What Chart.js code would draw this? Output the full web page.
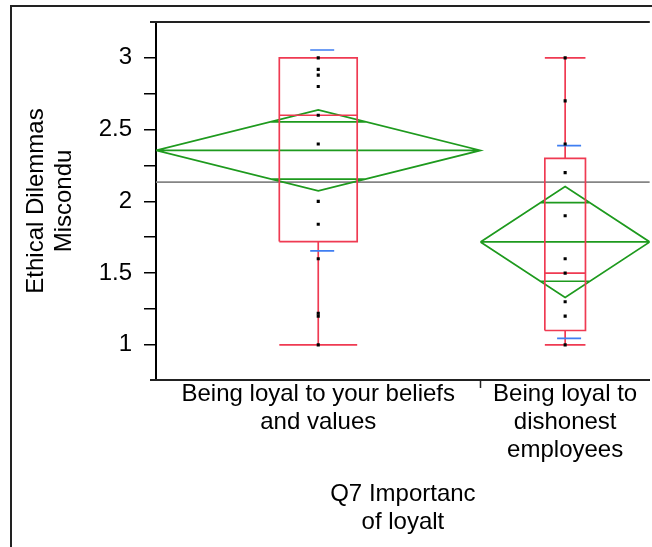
<!DOCTYPE html>
<html>
<head>
<meta charset="utf-8">
<script src="https://cdn.jsdelivr.net/npm/chart.js@4.4.0/dist/chart.umd.min.js"></script>
<style>
  html, body { margin: 0; padding: 0; background: #fff; }
  #wrap { width: 652px; height: 547px; }
</style>
</head>
<body>
<div id="wrap"><canvas id="chartBox"></canvas></div>
<script>
// group labels and counts (x widths are proportional to count)
var groupLabels = [["Being loyal to your beliefs", "and values"], ["Being loyal to", "dishonest", "employees"]];
var groupCounts = [23, 12];

// observed values per group
var pointsBeliefs = [3.0, 2.92, 2.88, 2.8, 2.6, 2.4, 2.0, 1.84, 1.6, 1.22, 1.2, 1.0];
var pointsDishonest = [3.0, 2.7, 2.4, 2.2, 1.9, 1.6, 1.5, 1.3, 1.2, 1.0];

// box plot summaries
var boxMin = [1.0, 1.0];
var boxQ1 = [1.72, 1.1];
var boxMedian = [2.6, 1.5];
var boxQ3 = [3.0, 2.3];
var boxMax = [3.0, 3.0];

// means diamonds and std dev lines
var groupMeans = [2.355, 1.717];
var ciHalf = [0.282, 0.387];
var stdDevs = [0.70, 0.672];
var grandMean = 2.134;

var yTicks = [1, 1.25, 1.5, 1.75, 2, 2.25, 2.5, 2.75, 3];
var yMin = 0.755, yMax = 3.25;

var RED = '#ef3a52', GREEN = '#1e9a1e', BLUE = '#3f7ef2', GRAY = '#858585';
var FONT = "'Liberation Sans', Arial, sans-serif";
var LW = 1.7;

var total = groupCounts[0] + groupCounts[1];
var starts = [0, groupCounts[0]];
var centers = starts.map(function (s, i) { return s + groupCounts[i] / 2; });
var gap = function (x) { return { x: x, y: null }; };

function boxData(i) {
  var c = centers[i], h = groupCounts[i] * 0.12;
  return [
    { x: c - h, y: boxQ1[i] }, { x: c + h, y: boxQ1[i] }, { x: c + h, y: boxQ3[i] }, { x: c - h, y: boxQ3[i] }, { x: c - h, y: boxQ1[i] }, gap(c),
    { x: c - h, y: boxMedian[i] }, { x: c + h, y: boxMedian[i] }, gap(c),
    { x: c, y: boxQ1[i] }, { x: c, y: boxMin[i] }, gap(c),
    { x: c, y: boxQ3[i] }, { x: c, y: boxMax[i] }, gap(c),
    { x: c - h, y: boxMin[i] }, { x: c + h, y: boxMin[i] }, gap(c),
    { x: c - h, y: boxMax[i] }, { x: c + h, y: boxMax[i] }
  ];
}

function diamondData(i) {
  var s = starts[i], e = starts[i] + groupCounts[i], c = centers[i], m = groupMeans[i], d = ciHalf[i];
  var ov = d / Math.SQRT2, w = (groupCounts[i] / 2) * (1 - 1 / Math.SQRT2);
  return [
    { x: s, y: m }, { x: c, y: m + d }, { x: e, y: m }, { x: c, y: m - d }, { x: s, y: m }, gap(c),
    { x: s, y: m }, { x: e, y: m }, gap(c),
    { x: c - w, y: m + ov }, { x: c + w, y: m + ov }, gap(c),
    { x: c - w, y: m - ov }, { x: c + w, y: m - ov }
  ];
}

function sdData(i) {
  var c = centers[i] + 0.28, h = 0.85;
  return [
    { x: c - h, y: groupMeans[i] + stdDevs[i] }, { x: c + h, y: groupMeans[i] + stdDevs[i] }, gap(c),
    { x: c - h, y: groupMeans[i] - stdDevs[i] }, { x: c + h, y: groupMeans[i] - stdDevs[i] }
  ];
}

function lineSet(data, color, order) {
  return { data: data, showLine: true, borderColor: color, borderWidth: LW, pointRadius: 0,
           pointHoverRadius: 0, tension: 0, spanGaps: false, fill: false, order: order };
}

var pointData = pointsBeliefs.map(function (v) { return { x: centers[0], y: v }; })
  .concat(pointsDishonest.map(function (v) { return { x: centers[1], y: v }; }));

var framePlugin = {
  id: 'frame',
  afterDraw: function (chart) {
    var ctx = chart.ctx, a = chart.chartArea, xs = chart.scales.x;
    ctx.save();
    ctx.strokeStyle = '#222';
    ctx.lineWidth = 2;
    ctx.beginPath();
    ctx.moveTo(11, chart.height); ctx.lineTo(11, 6); ctx.lineTo(chart.width, 6);
    ctx.moveTo(a.left - 6, a.top); ctx.lineTo(a.right, a.top);
    ctx.moveTo(a.left - 6, a.bottom); ctx.lineTo(a.right, a.bottom);
    ctx.stroke();
    var bx = xs.getPixelForValue(starts[1]);
    ctx.lineWidth = 1.5;
    ctx.beginPath();
    ctx.moveTo(bx, a.bottom); ctx.lineTo(bx, a.bottom + 8);
    ctx.stroke();
    ctx.restore();
  }
};

var ctx = document.getElementById('chartBox').getContext('2d');
var chartBox = new Chart(ctx, {
  type: 'scatter',
  data: {
    datasets: [
      { data: pointData, pointStyle: 'rect', pointRadius: 2.2, pointHoverRadius: 2.2, borderWidth: 0,
        backgroundColor: '#000', order: 0 },
      lineSet(sdData(0), BLUE, 1),
      lineSet(sdData(1), BLUE, 1),
      lineSet(boxData(0), RED, 2),
      lineSet(boxData(1), RED, 2),
      lineSet(diamondData(0), GREEN, 3),
      lineSet(diamondData(1), GREEN, 3),
      lineSet([{ x: 0, y: grandMean }, { x: total, y: grandMean }], GRAY, 4)
    ]
  },
  plugins: [framePlugin],
  options: {
    responsive: true,
    maintainAspectRatio: false,
    animation: false,
    events: [],
    layout: { padding: { top: 22, left: 0, right: 0, bottom: 0 } },
    plugins: { legend: { display: false }, tooltip: { enabled: false } },
    scales: {
      x: {
        type: 'linear', min: 0, max: total,
        afterBuildTicks: function (scale) { scale.ticks = centers.map(function (c) { return { value: c }; }); },
        afterFit: function (scale) { scale.height = 167; scale.paddingLeft = 0; scale.paddingRight = 0; },
        grid: { drawOnChartArea: false, drawTicks: false },
        border: { display: true, color: '#000', width: 2 },
        ticks: {
          autoSkip: false, maxRotation: 0, minRotation: 0, padding: 1, color: '#000',
          font: { family: FONT, size: 24, lineHeight: 1.15 },
          callback: function (v, i) { return groupLabels[i]; }
        },
        title: {
          display: true, text: ['Q7 Importanc', 'of loyalt'], color: '#000',
          font: { family: FONT, size: 24, lineHeight: 1.15 }, padding: { top: 0, bottom: 11 }
        }
      },
      y: {
        type: 'linear', min: yMin, max: yMax,
        afterBuildTicks: function (scale) { scale.ticks = yTicks.map(function (v) { return { value: v }; }); },
        afterFit: function (scale) { scale.width = 156; scale.paddingTop = 0; scale.paddingBottom = 0; },
        grid: { drawOnChartArea: false, drawTicks: true, tickLength: 12, color: '#000', lineWidth: 1.5 },
        border: { display: true, color: '#000', width: 2 },
        ticks: {
          padding: 12, color: '#000', font: { family: FONT, size: 24 },
          callback: function (v) { return (v * 2) % 1 === 0 ? String(v) : ''; }
        },
        title: {
          display: true, text: ['Ethical Dilemmas', 'Miscondu'], color: '#000',
          font: { family: FONT, size: 24, lineHeight: 1.15 }, padding: { top: 23, bottom: 0 }
        }
      }
    }
  }
});
</script>
</body>
</html>
